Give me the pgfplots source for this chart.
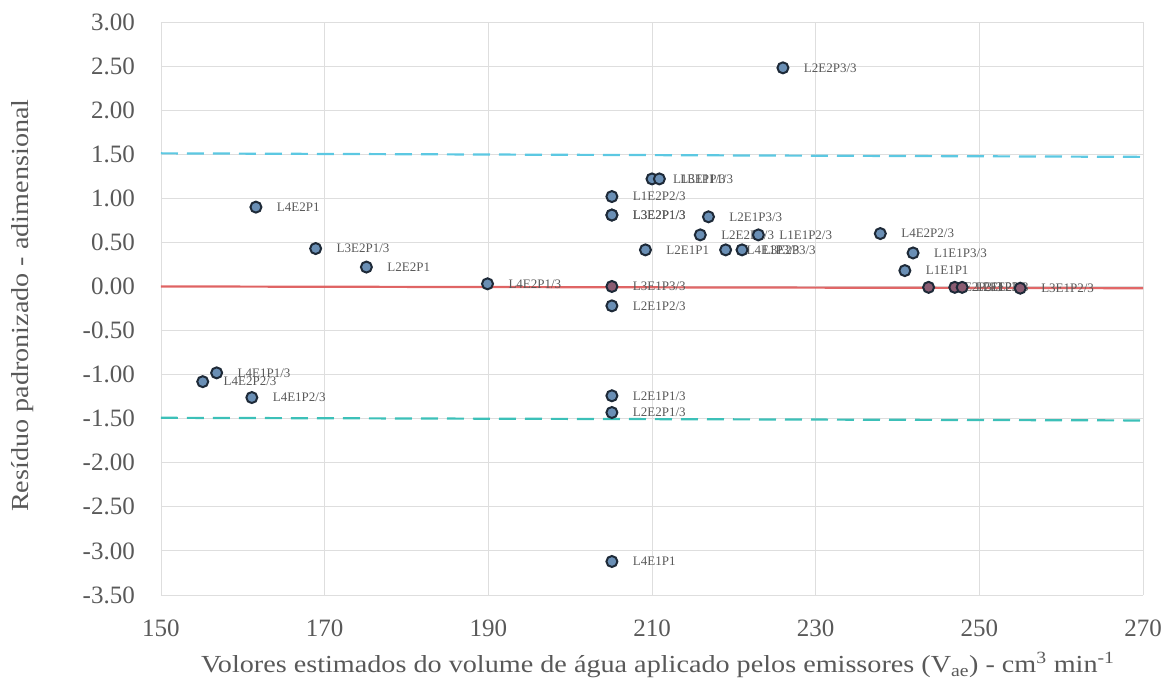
\documentclass[border=0pt]{standalone}
\usepackage{fontspec}
\setmainfont{Liberation Serif}
\newfontfamily\widefont[FakeStretch=1.15]{Liberation Serif}
\usepackage{pgfplots}
\usepackage{pgfplotstable}
\pgfplotsset{compat=1.18}
\definecolor{txt}{HTML}{595959}
\definecolor{gridc}{HTML}{DEDEDE}
\definecolor{mfill}{HTML}{6A8FB5}
\definecolor{mdraw}{HTML}{1E2A38}
\definecolor{mzero}{HTML}{8A5C72}
\definecolor{redl}{HTML}{DE5656}
\definecolor{cyanu}{HTML}{5CC8E2}
\definecolor{tealb}{HTML}{3CC0B8}
\pgfplotstableread{
x y lab
161.6 0.90 L4E2P1
168.9 0.43 L3E2P1/3
175.1 0.22 L2E2P1
189.9 0.03 L4E2P1/3
156.8 -0.98 L4E1P1/3
155.1 -1.08 L4E2P2/3
161.1 -1.26 L4E1P2/3
210.0 1.22 L1E1P1/3
210.9 1.22 L3E1P1/3
205.1 1.02 L1E2P2/3
205.1 0.81 L3E2P1/3
205.1 0.81 L3E2P1/3
216.9 0.79 L2E1P3/3
215.9 0.585 L2E2P2/3
223.0 0.585 L1E1P2/3
237.9 0.60 L4E2P2/3
209.2 0.415 L2E1P1
219.0 0.415 L4E1P3/3
221.0 0.415 L3E2P3/3
241.9 0.38 L1E1P3/3
240.9 0.18 L1E1P1
226.0 2.48 L2E2P3/3
205.1 -0.22 L2E1P2/3
205.1 -1.24 L2E1P1/3
205.1 -1.43 L2E2P1/3
205.1 -3.12 L4E1P1
}\mainpts
\pgfplotstableread{
x y lab
205.1 0.00 L3E1P3/3
243.8 -0.01 L1E2P3/3
247.0 -0.01 L2E1P3/3
247.9 -0.01 L1E2P1
255.0 -0.02 L3E1P2/3
}\zeropts
\begin{document}
\begin{tikzpicture}
\useasboundingbox (-161pt,-95pt) rectangle (1010pt,595pt);
\begin{axis}[
  scale only axis, width=982pt, height=573pt,
  xmin=150, xmax=270, ymin=-3.5, ymax=3,
  xtick={150,170,...,270},
  ytick={-3.5,-3,...,3},
  grid=major, major grid style={gridc, line width=0.9pt},
  axis line style={draw=none},
  major tick length=0pt,
  tick label style={font=\fontsize{25}{28}\selectfont, text=txt},
  /pgf/number format/assume math mode=true,
  yticklabel={\pgfmathprintnumber[fixed,fixed zerofill,precision=2]{\tick}},
  xticklabel={\pgfmathprintnumber[fixed,precision=0]{\tick}},
  yticklabel style={anchor=east, inner sep=0pt, xshift=-26pt},
  xticklabel style={anchor=north, inner sep=0pt, yshift=-25pt},
  xlabel={Volores estimados do volume de água aplicado pelos emissores (V\textsubscript{ae}) - cm\textsuperscript{3} min\textsuperscript{-1}},
  ylabel={Resíduo padronizado - adimensional},
  label style={font=\widefont\fontsize{24.5}{28}\selectfont, text=txt},
  xlabel style={at={(axis description cs:0.506,-0.122)}, anchor=center},
  ylabel style={at={(axis description cs:-0.1405,0.505)}, anchor=center},
  clip=false,
]
\addplot[cyanu, line width=2.2pt, dash pattern=on 17pt off 9pt] coordinates {(150,1.51) (270,1.47)};
\addplot[tealb, line width=2.2pt, dash pattern=on 17pt off 9pt] coordinates {(150,-1.49) (270,-1.52)};
\addplot[only marks, mark=*, mark size=5.5pt, mark options={fill=mfill, draw=mdraw, line width=2pt},
  point meta=explicit symbolic,
  nodes near coords={\pgfplotspointmeta},
  nodes near coords style={anchor=west, xshift=20pt, font=\fontsize{13}{15}\selectfont, text=txt, inner sep=0pt}]
  table[x=x, y=y, meta=lab] {\mainpts};
\addplot[only marks, mark=*, mark size=5.5pt, mark options={fill=mzero, draw=mdraw, line width=2pt},
  point meta=explicit symbolic,
  nodes near coords={\pgfplotspointmeta},
  nodes near coords style={anchor=west, xshift=20pt, font=\fontsize{13}{15}\selectfont, text=txt, inner sep=0pt}]
  table[x=x, y=y, meta=lab] {\zeropts};
\addplot[redl, line width=2.2pt, opacity=0.9] coordinates {(150,0) (270,-0.02)};
\end{axis}
\end{tikzpicture}
\end{document}
